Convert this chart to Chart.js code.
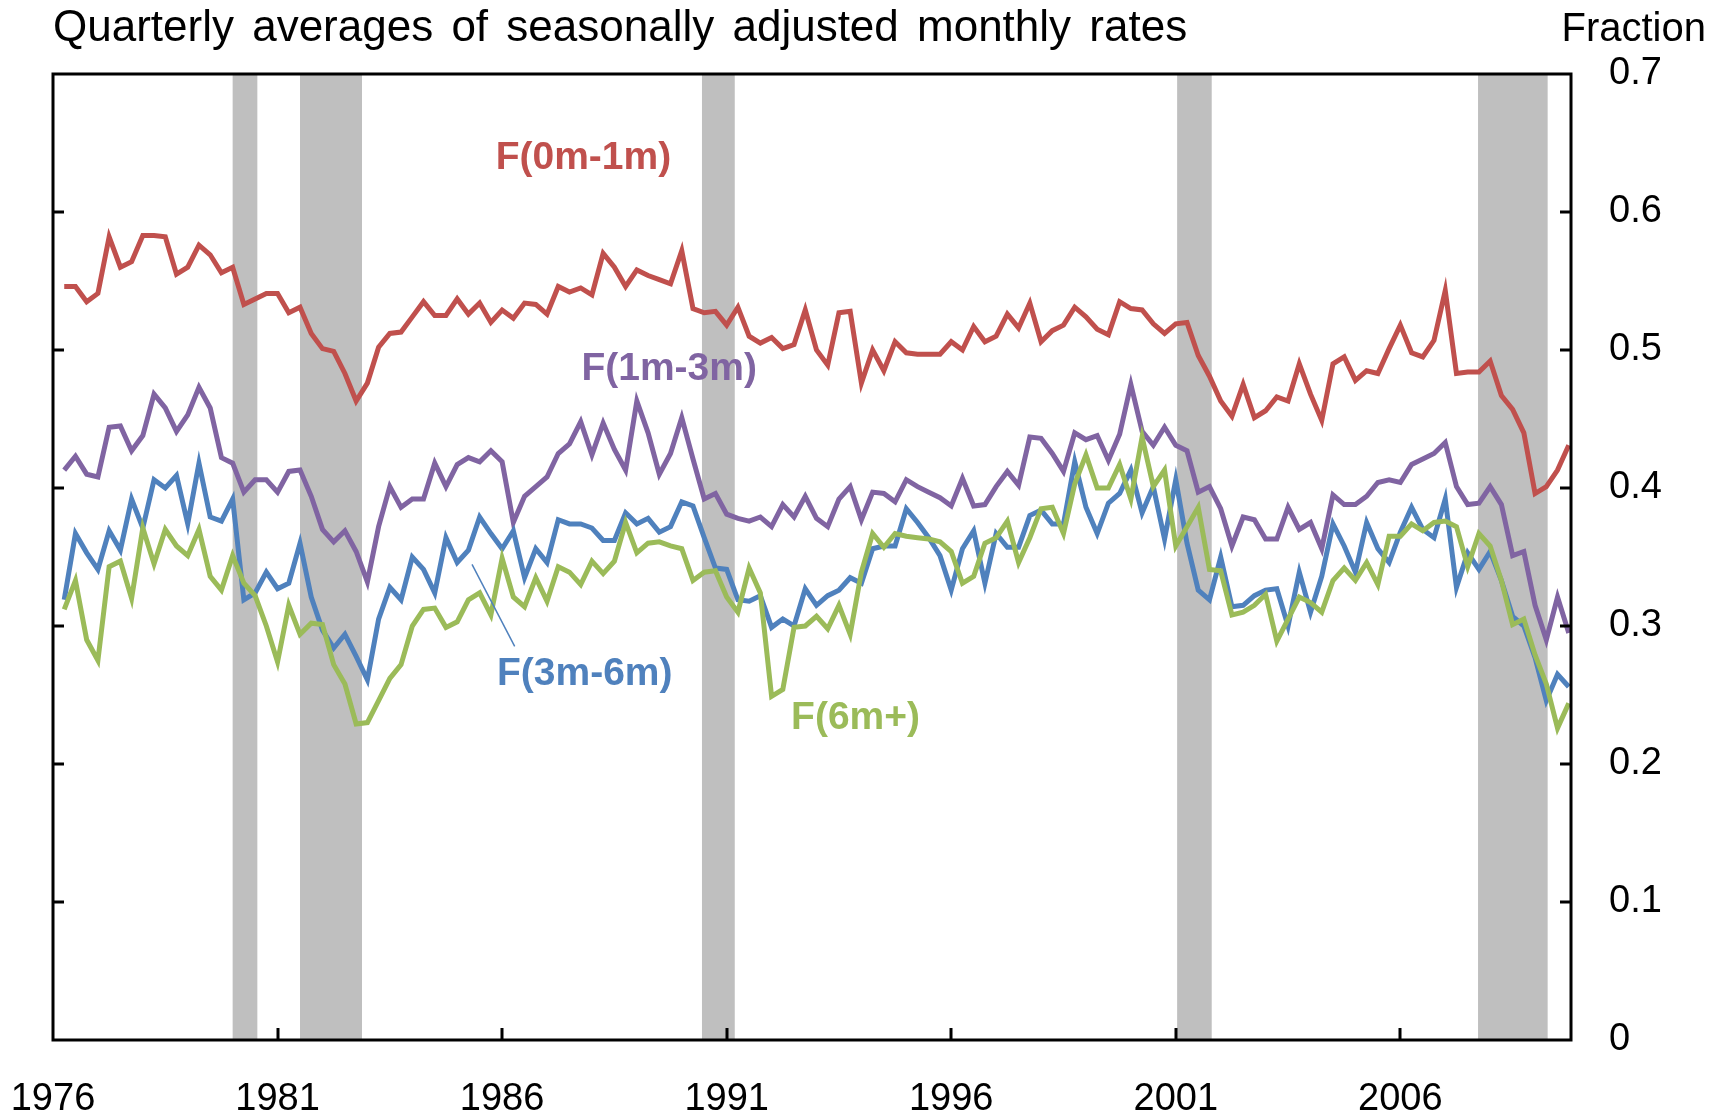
<!DOCTYPE html>
<html>
<head>
<meta charset="utf-8">
<title>Quarterly averages of seasonally adjusted monthly rates</title>
<script src="https://cdn.jsdelivr.net/npm/chart.js@4.4.1/dist/chart.umd.min.js"></script>
<style>
  html, body { margin: 0; padding: 0; background: #fff; }
  #wrap { width: 1712px; height: 1117px; }
</style>
</head>
<body>
<div id="wrap"><canvas id="rates" width="1712" height="1117"></canvas></div>
<script>
// quarterly observations, 1976Q1 .. 2009Q3
const quarters = [];
for (let yr = 1976; yr <= 2009; yr++) {
  for (let q = 1; q <= 4; q++) {
    if (yr === 2009 && q === 4) break;
    quarters.push(yr + 'Q' + q);
  }
}

const f0m1m = [
  0.546, 0.546, 0.535, 0.541, 0.582, 0.560, 0.564, 0.583, 0.583, 0.582,
  0.555, 0.560, 0.576, 0.569, 0.556, 0.560, 0.533, 0.537, 0.541, 0.541,
  0.527, 0.531, 0.512, 0.501, 0.499, 0.483, 0.463, 0.476, 0.502, 0.512,
  0.513, 0.524, 0.535, 0.525, 0.525, 0.537, 0.526, 0.534, 0.520, 0.529,
  0.523, 0.534, 0.533, 0.526, 0.546, 0.542, 0.545, 0.540, 0.570, 0.560,
  0.546, 0.558, 0.554, 0.551, 0.548, 0.572, 0.530, 0.527, 0.528, 0.518,
  0.531, 0.510, 0.505, 0.509, 0.501, 0.504, 0.529, 0.500, 0.489, 0.527,
  0.528, 0.476, 0.500, 0.485, 0.506, 0.498, 0.497, 0.497, 0.497, 0.506,
  0.500, 0.517, 0.506, 0.510, 0.526, 0.516, 0.534, 0.506, 0.514, 0.518,
  0.531, 0.524, 0.515, 0.511, 0.535, 0.530, 0.529, 0.519, 0.512, 0.519,
  0.520, 0.496, 0.481, 0.463, 0.452, 0.475, 0.451, 0.456, 0.466, 0.463,
  0.490, 0.468, 0.449, 0.490, 0.495, 0.478, 0.485, 0.483, 0.501, 0.518,
  0.498, 0.495, 0.507, 0.543, 0.483, 0.484, 0.484, 0.492, 0.467, 0.457,
  0.440, 0.396, 0.401, 0.413, 0.431
];

const f1m3m = [
  0.413, 0.423, 0.410, 0.408, 0.444, 0.445, 0.427, 0.438, 0.468, 0.458,
  0.441, 0.453, 0.473, 0.458, 0.422, 0.418, 0.397, 0.406, 0.406, 0.397,
  0.412, 0.413, 0.394, 0.370, 0.361, 0.369, 0.354, 0.332, 0.372, 0.401,
  0.386, 0.392, 0.392, 0.418, 0.401, 0.417, 0.422, 0.419, 0.427, 0.419,
  0.375, 0.394, 0.401, 0.408, 0.425, 0.432, 0.448, 0.424, 0.447, 0.428,
  0.413, 0.463, 0.440, 0.410, 0.425, 0.451, 0.421, 0.392, 0.396, 0.381,
  0.378, 0.376, 0.379, 0.372, 0.388, 0.379, 0.394, 0.378, 0.372, 0.392,
  0.401, 0.377, 0.397, 0.396, 0.390, 0.406, 0.401, 0.397, 0.393, 0.387,
  0.407, 0.387, 0.388, 0.401, 0.412, 0.402, 0.437, 0.436, 0.425, 0.412,
  0.440, 0.435, 0.438, 0.420, 0.439, 0.475, 0.441, 0.431, 0.444, 0.431,
  0.427, 0.397, 0.401, 0.385, 0.358, 0.379, 0.377, 0.363, 0.363, 0.386,
  0.370, 0.375, 0.356, 0.395, 0.388, 0.388, 0.394, 0.404, 0.406, 0.404,
  0.417, 0.421, 0.425, 0.433, 0.401, 0.388, 0.389, 0.401, 0.388, 0.351,
  0.354, 0.315, 0.290, 0.321, 0.295
];

const f3m6m = [
  0.319, 0.367, 0.353, 0.341, 0.369, 0.355, 0.392, 0.371, 0.406, 0.400,
  0.409, 0.374, 0.418, 0.379, 0.376, 0.392, 0.319, 0.324, 0.339, 0.327,
  0.331, 0.360, 0.321, 0.297, 0.284, 0.294, 0.278, 0.261, 0.305, 0.328,
  0.319, 0.350, 0.341, 0.324, 0.364, 0.346, 0.355, 0.379, 0.367, 0.356,
  0.369, 0.335, 0.356, 0.346, 0.377, 0.374, 0.374, 0.371, 0.362, 0.362,
  0.382, 0.374, 0.378, 0.368, 0.372, 0.390, 0.387, 0.364, 0.342, 0.341,
  0.319, 0.318, 0.322, 0.299, 0.305, 0.300, 0.327, 0.315, 0.322, 0.326,
  0.335, 0.331, 0.356, 0.358, 0.358, 0.385, 0.375, 0.364, 0.351, 0.326,
  0.356, 0.369, 0.331, 0.367, 0.357, 0.357, 0.380, 0.384, 0.374, 0.374,
  0.419, 0.386, 0.367, 0.389, 0.396, 0.413, 0.382, 0.401, 0.363, 0.406,
  0.360, 0.326, 0.319, 0.350, 0.314, 0.315, 0.322, 0.326, 0.327, 0.300,
  0.339, 0.310, 0.336, 0.374, 0.358, 0.339, 0.375, 0.356, 0.346, 0.368,
  0.386, 0.370, 0.364, 0.392, 0.328, 0.353, 0.341, 0.354, 0.333, 0.307,
  0.300, 0.277, 0.246, 0.265, 0.256
];

const f6mPlus = [
  0.312, 0.333, 0.290, 0.275, 0.343, 0.347, 0.320, 0.371, 0.345, 0.370,
  0.358, 0.351, 0.370, 0.336, 0.326, 0.351, 0.331, 0.322, 0.300, 0.274,
  0.315, 0.294, 0.302, 0.301, 0.272, 0.258, 0.229, 0.230, 0.246, 0.262,
  0.272, 0.300, 0.312, 0.313, 0.299, 0.303, 0.319, 0.324, 0.308, 0.349,
  0.321, 0.314, 0.335, 0.318, 0.343, 0.339, 0.330, 0.347, 0.338, 0.347,
  0.375, 0.353, 0.360, 0.361, 0.358, 0.356, 0.333, 0.339, 0.340, 0.321,
  0.310, 0.342, 0.324, 0.249, 0.254, 0.299, 0.300, 0.307, 0.298, 0.315,
  0.294, 0.339, 0.367, 0.357, 0.367, 0.365, 0.364, 0.363, 0.361, 0.354,
  0.331, 0.336, 0.360, 0.364, 0.376, 0.346, 0.364, 0.385, 0.386, 0.367,
  0.403, 0.424, 0.400, 0.400, 0.417, 0.392, 0.437, 0.401, 0.413, 0.358,
  0.372, 0.386, 0.341, 0.340, 0.308, 0.310, 0.315, 0.323, 0.289, 0.305,
  0.321, 0.317, 0.310, 0.333, 0.342, 0.333, 0.346, 0.330, 0.365, 0.365,
  0.374, 0.369, 0.375, 0.376, 0.372, 0.343, 0.367, 0.358, 0.333, 0.301,
  0.305, 0.279, 0.258, 0.226, 0.244
];

const yearTicks = [1976, 1981, 1986, 1991, 1996, 2001, 2006];
const fractionTicks = [0, 0.1, 0.2, 0.3, 0.4, 0.5, 0.6, 0.7];
const fractionLabels = ['0', '0.1', '0.2', '0.3', '0.4', '0.5', '0.6', '0.7'];

// shaded recession periods, in fractional years
const recessions = [
  [1980.0, 1980.55],
  [1981.5, 1982.88],
  [1990.45, 1991.18],
  [2001.03, 2001.8],
  [2007.73, 2009.28]
];

const RED = '#c0504d', PURPLE = '#8064a2', BLUE = '#4f81bd', GREEN = '#9bbb59';
const FONT = '"Liberation Sans", Arial, Helvetica, sans-serif';

// quarter label -> position on the year axis (end of the quarter)
function quarterPos(label) {
  const [yr, q] = label.split('Q');
  return Number(yr) + Number(q) / 4;
}

function series(values) {
  return quarters.map((q, i) => ({ x: quarterPos(q), y: values[i] }));
}

// labels written next to the lines, placed in data coordinates
const lineLabels = [
  { text: 'F(0m-1m)', color: RED, x: 1987.81, y: 0.639 },
  { text: 'F(1m-3m)', color: PURPLE, x: 1989.72, y: 0.486 },
  { text: 'F(3m-6m)', color: BLUE, x: 1987.84, y: 0.265 },
  { text: 'F(6m+)', color: GREEN, x: 1993.87, y: 0.233 }
];
const leader = { from: [1985.33, 0.3446], to: [1986.28, 0.2852], color: BLUE };

const bands = {
  id: 'recessionBands',
  beforeDatasetsDraw(chart) {
    const { ctx, chartArea: a, scales: { x } } = chart;
    ctx.save();
    ctx.fillStyle = '#bfbfbf';
    recessions.forEach(([s, e]) => {
      const x0 = x.getPixelForValue(s);
      const x1 = x.getPixelForValue(e);
      ctx.fillRect(x0, a.top, x1 - x0, a.bottom - a.top);
    });
    ctx.restore();
  }
};

const frame = {
  id: 'frame',
  afterDatasetsDraw(chart) {
    const { ctx, chartArea: a, scales: { x, y } } = chart;
    ctx.save();
    ctx.strokeStyle = '#000';
    ctx.lineWidth = 3;
    ctx.strokeRect(a.left, a.top, a.right - a.left, a.bottom - a.top);
    ctx.beginPath();
    fractionTicks.slice(1, -1).forEach(v => {
      const py = Math.round(y.getPixelForValue(v));
      ctx.moveTo(a.left, py);
      ctx.lineTo(a.left + 11, py);
      ctx.moveTo(a.right, py);
      ctx.lineTo(a.right - 11, py);
    });
    yearTicks.slice(1).forEach(v => {
      const px = Math.round(x.getPixelForValue(v));
      ctx.moveTo(px, a.bottom);
      ctx.lineTo(px, a.bottom - 12);
    });
    ctx.stroke();

    // leader line from the F(3m-6m) label to its series
    ctx.strokeStyle = leader.color;
    ctx.lineWidth = 1.5;
    ctx.beginPath();
    ctx.moveTo(x.getPixelForValue(leader.from[0]), y.getPixelForValue(leader.from[1]));
    ctx.lineTo(x.getPixelForValue(leader.to[0]), y.getPixelForValue(leader.to[1]));
    ctx.stroke();
    ctx.restore();
  }
};

const texts = {
  id: 'texts',
  afterDraw(chart) {
    const { ctx, scales: { x, y } } = chart;
    ctx.save();
    ctx.fillStyle = '#000';
    ctx.textBaseline = 'alphabetic';
    ctx.font = '44px ' + FONT;
    ctx.textAlign = 'left';
    if ('wordSpacing' in ctx) ctx.wordSpacing = '6px';
    ctx.fillText('Quarterly averages of seasonally adjusted monthly rates', 53, 41);
    if ('wordSpacing' in ctx) ctx.wordSpacing = '0px';
    ctx.font = '40px ' + FONT;
    ctx.textAlign = 'right';
    ctx.fillText('Fraction', 1706, 41);

    ctx.font = 'bold 39px ' + FONT;
    ctx.textAlign = 'center';
    ctx.textBaseline = 'middle';
    lineLabels.forEach(l => {
      ctx.fillStyle = l.color;
      ctx.fillText(l.text, x.getPixelForValue(l.x), y.getPixelForValue(l.y));
    });
    ctx.restore();
  }
};

function line(label, values, color, order) {
  return {
    label,
    data: series(values),
    borderColor: color,
    backgroundColor: color,
    borderWidth: 5,
    borderJoinStyle: 'miter',
    pointRadius: 0,
    tension: 0,
    fill: false,
    order
  };
}

// keep the plot box fixed: no extra room reserved for overhanging tick labels
function noOverhang(s) {
  s.paddingLeft = 0;
  s.paddingRight = 0;
  s.paddingTop = 0;
  s.paddingBottom = 0;
}

new Chart(document.getElementById('rates'), {
  type: 'line',
  data: {
    datasets: [
      line('F(0m-1m)', f0m1m, RED, 4),
      line('F(1m-3m)', f1m3m, PURPLE, 3),
      line('F(3m-6m)', f3m6m, BLUE, 2),
      line('F(6m+)', f6mPlus, GREEN, 1)
    ]
  },
  options: {
    responsive: false,
    animation: false,
    devicePixelRatio: 1,
    layout: { padding: { left: 53, top: 74, right: 0, bottom: 0 } },
    plugins: {
      legend: { display: false },
      tooltip: { enabled: false },
      title: { display: false }
    },
    scales: {
      x: {
        type: 'linear',
        min: 1976,
        max: 2009.8,
        grid: { display: false, drawTicks: false },
        border: { display: false },
        afterBuildTicks: s => { s.ticks = yearTicks.map(v => ({ value: v })); },
        afterFit: s => { s.height = 77; noOverhang(s); },
        ticks: {
          autoSkip: false,
          maxRotation: 0,
          padding: 37,
          color: '#000',
          font: { family: FONT, size: 38 },
          callback: v => String(v)
        }
      },
      y: {
        position: 'right',
        min: 0,
        max: 0.7,
        grid: { display: false, drawTicks: false },
        border: { display: false },
        afterBuildTicks: s => { s.ticks = fractionTicks.map(v => ({ value: v })); },
        afterFit: s => { s.width = 141; noOverhang(s); },
        ticks: {
          autoSkip: false,
          padding: 38,
          color: '#000',
          font: { family: FONT, size: 38 },
          callback: (v, i) => fractionLabels[i]
        }
      }
    }
  },
  plugins: [bands, frame, texts]
});
</script>
</body>
</html>
